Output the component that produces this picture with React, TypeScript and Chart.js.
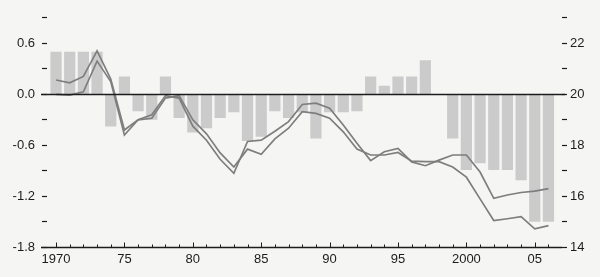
import React, { useEffect, useRef } from "react";
import { Chart, registerables } from "chart.js";

Chart.register(...registerables);

const years = [
  1970, 1971, 1972, 1973, 1974, 1975, 1976, 1977, 1978, 1979,
  1980, 1981, 1982, 1983, 1984, 1985, 1986, 1987, 1988, 1989,
  1990, 1991, 1992, 1993, 1994, 1995, 1996, 1997, 1998, 1999,
  2000, 2001, 2002, 2003, 2004, 2005, 2006,
];

// gray bars, left axis
const barValues = [
  0.5, 0.5, 0.5, 0.5, -0.38, 0.21, -0.2, -0.3, 0.21, -0.28,
  -0.45, -0.4, -0.28, -0.21, -0.55, -0.5, -0.2, -0.28, -0.21, -0.52,
  -0.21, -0.21, -0.2, 0.21, 0.1, 0.21, 0.21, 0.4, 0, -0.52,
  -0.89, -0.81, -0.89, -0.89, -1.01, -1.5, -1.5,
];

// lines, right axis
const lineA = [
  20.56, 20.45, 20.7, 21.7, 20.6, 18.6, 19.0, 19.2, 19.95, 19.85,
  18.75, 18.2, 17.45, 16.9, 18.15, 18.2, 18.55, 18.93, 19.6, 19.65,
  19.45, 18.8, 18.08, 17.4, 17.75, 17.88, 17.35, 17.2, 17.42, 17.62,
  17.62, 16.95, 15.92, 16.05, 16.15, 16.2, 16.3,
];
const lineB = [
  20.0, 19.97, 20.1, 21.3, 20.5, 18.4, 19.0, 19.06, 19.85, 19.95,
  19.0, 18.45, 17.7, 17.15, 17.85, 17.65, 18.25, 18.67, 19.32, 19.25,
  19.06, 18.53, 17.85, 17.62, 17.62, 17.72, 17.38, 17.36, 17.36, 17.15,
  16.75, 15.9, 15.05, 15.12, 15.2, 14.72, 14.85,
];

const xTickValues = [1970, 1975, 1980, 1985, 1990, 1995, 2000, 2005];
const xTickLabels = ["1970", "75", "80", "85", "90", "95", "2000", "05"];
const leftTickValues = [-1.8, -1.2, -0.6, 0, 0.6];
const leftTickLabels = ["-1.8", "-1.2", "-0.6", "0.0", "0.6"];
const rightTickValues = [14, 16, 18, 20, 22];
const rightTickLabels = ["14", "16", "18", "20", "22"];

const FONT = { family: "'Liberation Sans', Arial, sans-serif", size: 13 };
const INK = "#1c1c1c";

function labelFor(values: number[], labels: string[], v: number) {
  const i = values.findIndex((t) => Math.abs(t - v) < 1e-6);
  return i >= 0 ? labels[i] : "";
}

const decorPlugin = {
  id: "decor",
  beforeDraw(chart: any) {
    const { ctx } = chart;
    ctx.save();
    ctx.fillStyle = "#f5f5f4";
    ctx.fillRect(0, 0, chart.width, chart.height);
    ctx.restore();
  },
  afterDatasetsDraw(chart: any) {
    const { ctx, chartArea } = chart;
    const x = chart.scales.x;
    const y = chart.scales.y;
    ctx.save();
    ctx.strokeStyle = INK;
    // zero line
    const y0 = Math.round(y.getPixelForValue(0)) + 0.5;
    ctx.lineWidth = 1.5;
    ctx.beginPath();
    ctx.moveTo(chartArea.left - 6, y0);
    ctx.lineTo(chartArea.right + 3, y0);
    ctx.stroke();
    // bottom axis line
    const yb = Math.round(chartArea.bottom) + 0.5;
    ctx.lineWidth = 1.3;
    ctx.beginPath();
    ctx.moveTo(chartArea.left - 6, yb);
    ctx.lineTo(chartArea.right, yb);
    ctx.stroke();
    // inward year ticks
    ctx.lineWidth = 1;
    x.ticks.forEach((t: any) => {
      const px = Math.round(x.getPixelForValue(t.value)) + 0.5;
      const len = t.value % 5 === 0 ? 5 : 3;
      ctx.beginPath();
      ctx.moveTo(px, yb);
      ctx.lineTo(px, yb - len);
      ctx.stroke();
    });
    ctx.restore();
  },
};

export default function App() {
  const ref = useRef<HTMLCanvasElement | null>(null);

  useEffect(() => {
    if (!ref.current) return;
    const chart = new Chart(ref.current, {
      type: "bar",
      data: {
        datasets: [
          {
            type: "line",
            label: "A",
            data: years.map((yr, i) => ({ x: yr, y: lineA[i] })),
            yAxisID: "y1",
            borderColor: "#7e7e7e",
            borderWidth: 1.7,
            pointRadius: 0,
            tension: 0,
            order: 0,
          },
          {
            type: "line",
            label: "B",
            data: years.map((yr, i) => ({ x: yr, y: lineB[i] })),
            yAxisID: "y1",
            borderColor: "#7e7e7e",
            borderWidth: 1.7,
            pointRadius: 0,
            tension: 0,
            order: 0,
          },
          {
            type: "bar",
            label: "bars",
            data: years.map((yr, i) => ({ x: yr, y: barValues[i] })),
            yAxisID: "y",
            backgroundColor: "#cbcbcb",
            borderWidth: 0,
            barPercentage: 0.82,
            categoryPercentage: 1,
            order: 1,
          } as any,
        ],
      },
      options: {
        animation: false,
        responsive: false,
        maintainAspectRatio: false,
        events: [],
        layout: { padding: { top: 17.8, left: 0, right: 0, bottom: 0 } },
        plugins: { legend: { display: false }, tooltip: { enabled: false } },
        scales: {
          x: {
            type: "linear",
            min: 1969.34,
            max: 2006.99,
            offset: false,
            grid: { display: false, drawTicks: false },
            border: { display: false },
            ticks: {
              stepSize: 1,
              autoSkip: false,
              includeBounds: false,
              maxRotation: 0,
              padding: 4,
              color: INK,
              font: FONT,
              callback: (v: any) => labelFor(xTickValues, xTickLabels, Number(v)),
            },
            afterFit: (s: any) => {
              s.height = 29.7;
            },
          },
          y: {
            type: "linear",
            position: "left",
            min: -1.8,
            max: 0.9,
            grid: {
              drawOnChartArea: false,
              drawTicks: true,
              tickLength: 5,
              tickColor: INK,
              tickWidth: 1.2,
            },
            border: { display: false },
            ticks: {
              stepSize: 0.3,
              autoSkip: false,
              padding: 7,
              color: INK,
              font: FONT,
              callback: (v: any) => labelFor(leftTickValues, leftTickLabels, Number(v)),
            },
            afterFit: (s: any) => {
              s.width = 47;
            },
          },
          y1: {
            type: "linear",
            position: "right",
            min: 14,
            max: 23,
            grid: {
              drawOnChartArea: false,
              drawTicks: true,
              tickLength: 5,
              tickColor: INK,
              tickWidth: 1.2,
            },
            border: { display: false },
            ticks: {
              stepSize: 1,
              autoSkip: false,
              padding: 3,
              color: INK,
              font: FONT,
              callback: (v: any) => labelFor(rightTickValues, rightTickLabels, Number(v)),
            },
            afterFit: (s: any) => {
              s.width = 38;
            },
          },
        },
      } as any,
      plugins: [decorPlugin],
    });
    return () => chart.destroy();
  }, []);

  return (
    <div style={{ position: "absolute", left: 0, top: 0, width: 600, height: 277 }}>
      <canvas ref={ref} width={600} height={277} style={{ display: "block", width: 600, height: 277 }} />
    </div>
  );
}
